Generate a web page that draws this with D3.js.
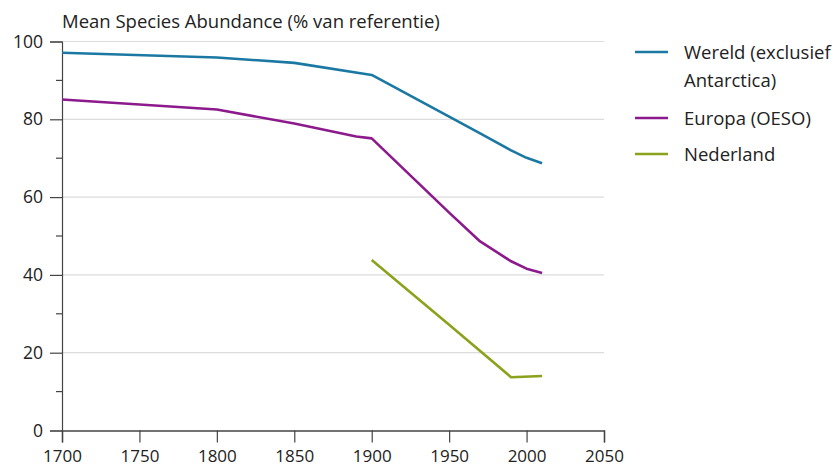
<!DOCTYPE html>
<html>
<head>
<meta charset="utf-8">
<script src="https://cdn.jsdelivr.net/npm/d3@7"></script>
<style>
  body { margin: 0; background: #fff; }
  text { font-family: "Open Sans", "Noto Sans", sans-serif; fill: #222; }
</style>
</head>
<body>
<svg id="chart" width="840" height="470"></svg>
<script>
// data
const wereldYears = [1700, 1800, 1850, 1900, 1950, 1970, 1990, 2000, 2010]
const wereldValues = [97.1, 95.9, 94.5, 91.4, 80.7, 76.4, 72.0, 70.1, 68.7]
const europaYears = [1700, 1800, 1850, 1890, 1900, 1950, 1970, 1990, 2000, 2010]
const europaValues = [85.1, 82.5, 78.9, 75.6, 75.1, 56.0, 48.6, 43.5, 41.6, 40.5]
const nederlandYears = [1900, 1950, 1990, 2010]
const nederlandValues = [43.8, 27.2, 13.7, 14.0]

const seriesNames = ["Wereld (exclusief|Antarctica)", "Europa (OESO)", "Nederland"]
const seriesColors = ["#1b78a3", "#8c1a8c", "#8ba21c"]
const xTicks = [1700, 1750, 1800, 1850, 1900, 1950, 2000, 2050]
const yTicks = [0, 20, 40, 60, 80, 100]
const yMinor = [10, 30, 50, 70, 90]
const yTitle = "Mean Species Abundance (% van referentie)"

const svg = d3.select("#chart")

const x = d3.scaleLinear().domain([1700, 2050]).range([62, 604])
const y = d3.scaleLinear().domain([0, 100]).range([430.5, 41.5])

// gridlines
svg.append("g")
    .selectAll("line")
    .data(yTicks.filter(d => d > 0))
    .enter()
    .append("line")
    .attr("x1", x(1700))
    .attr("x2", x(2050))
    .attr("y1", d => y(d))
    .attr("y2", d => y(d))
    .attr("stroke", "#dcdcdc")
    .attr("stroke-width", 1.2)

// y axis
const yAxis = d3.axisLeft(y).tickValues(yTicks).tickSize(12).tickPadding(7)
const gy = svg.append("g")
    .attr("transform", `translate(${x(1700)},0)`)
    .call(yAxis)
gy.select(".domain").attr("stroke", "#444").attr("stroke-width", 1.2)
gy.selectAll(".tick line").attr("stroke", "#444").attr("stroke-width", 1.2)
gy.selectAll(".tick text").attr("font-size", 17.5).attr("font-family", "Open Sans").attr("fill", "#222")

gy.selectAll(".minor")
    .data(yMinor)
    .enter()
    .append("line")
    .attr("class", "minor")
    .attr("x1", -6)
    .attr("x2", 0)
    .attr("y1", d => y(d))
    .attr("y2", d => y(d))
    .attr("stroke", "#444")
    .attr("stroke-width", 1.2)

// x axis
const xAxis = d3.axisBottom(x).tickValues(xTicks).tickFormat(d3.format("d")).tickSize(12).tickPadding(7)
const gx = svg.append("g")
    .attr("transform", `translate(0,${y(0)})`)
    .call(xAxis)
gx.select(".domain").attr("stroke", "#444").attr("stroke-width", 1.4)
gx.selectAll(".tick line").attr("stroke", "#444").attr("stroke-width", 1.2)
gx.selectAll(".tick text").attr("font-size", 17).attr("font-family", "Open Sans").attr("fill", "#222")

// title
svg.append("text")
    .attr("x", 62)
    .attr("y", 28)
    .attr("font-size", 18.5)
    .text(yTitle)

// lines
const series = [
    {years: wereldYears, values: wereldValues},
    {years: europaYears, values: europaValues},
    {years: nederlandYears, values: nederlandValues}
]
const line = d3.line()
    .x(d => x(d[0]))
    .y(d => y(d[1]))

series.forEach((s, i) => {
    svg.append("path")
        .datum(d3.zip(s.years, s.values))
        .attr("d", line)
        .attr("fill", "none")
        .attr("stroke", seriesColors[i])
        .attr("stroke-width", 2.6)
        .attr("stroke-linejoin", "round")
})

// legend
const legendY = [52, 118, 154]
const legend = svg.selectAll(".legend")
    .data(seriesNames)
    .enter()
    .append("g")
    .attr("class", "legend")
    .attr("transform", (d, i) => `translate(635,${legendY[i]})`)

legend.append("line")
    .attr("x1", 0)
    .attr("x2", 33)
    .attr("stroke", (d, i) => seriesColors[i])
    .attr("stroke-width", 2.6)

legend.append("text")
    .attr("x", 49)
    .attr("font-size", 18.5)
    .selectAll("tspan")
    .data(d => d.split("|"))
    .enter()
    .append("tspan")
    .attr("x", 49)
    .attr("dy", (d, i) => i === 0 ? "0.36em" : "1.55em")
    .text(d => d)
</script>
</body>
</html>
